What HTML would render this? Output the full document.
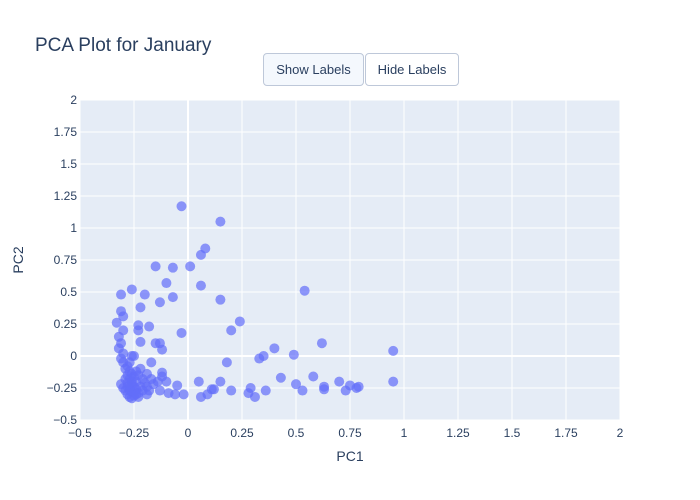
<!DOCTYPE html>
<html><head><meta charset="utf-8"><style>
body{margin:0;background:#fff;font-family:"Liberation Sans",Arial,sans-serif}
#wrap{position:relative;width:700px;height:500px}
.btn{position:absolute;top:53px;height:33px;border:1px solid #bec8d9;border-radius:4px;font-size:13px;color:#2a3f5f;display:flex;align-items:center;justify-content:center;box-sizing:border-box;background:#fff}
</style></head><body>
<div id="wrap">
<svg id="svg" width="700" height="500" style="position:absolute;left:0;top:0"></svg>
<div class="btn" style="left:263px;width:101px;background:#f4f8fd">Show Labels</div>
<div class="btn" style="left:365px;width:94px">Hide Labels</div>
</div>
<script>
const xTicks=[-0.5,-0.25,0,0.25,0.5,0.75,1,1.25,1.5,1.75,2];
const yTicks=[-0.5,-0.25,0,0.25,0.5,0.75,1,1.25,1.5,1.75,2];
const pc1=[-0.03,0.15,0.08,0.06,-0.15,-0.07,0.01,-0.10,0.06,-0.31,-0.26,-0.20,-0.13,-0.07,0.15,0.54,-0.22,-0.31,-0.30,-0.33,-0.23,-0.18,-0.23,-0.30,-0.03,0.20,0.24,0.62,-0.32,-0.22,-0.15,-0.13,-0.31,-0.12,-0.32,-0.30,-0.26,-0.25,-0.31,0.33,0.35,0.40,0.49,0.95,-0.17,0.18,-0.12,-0.12,-0.17,-0.14,-0.10,-0.16,0.05,0.15,0.43,0.50,0.58,-0.05,-0.13,-0.09,-0.06,-0.02,0.06,0.09,0.11,0.12,0.20,0.28,0.29,0.31,0.36,0.53,0.63,0.63,0.70,0.73,0.75,0.78,0.79,0.95,-0.19,-0.18,
-0.28,-0.29,-0.27,-0.26,-0.28,-0.25,-0.27,-0.24,-0.23,-0.21,-0.20,-0.22,-0.24,-0.26,-0.28,-0.27,-0.26,-0.25,-0.23,-0.29,-0.30,-0.28,-0.26,-0.25,-0.27,-0.24,-0.22,-0.19,-0.21,-0.19,-0.29,-0.31,-0.30,-0.27,-0.25,-0.23,-0.27,-0.26,-0.28,-0.24];
const pc2=[1.17,1.05,0.84,0.79,0.70,0.69,0.70,0.57,0.55,0.48,0.52,0.48,0.42,0.46,0.44,0.51,0.38,0.35,0.31,0.26,0.24,0.23,0.20,0.20,0.18,0.20,0.27,0.10,0.15,0.11,0.10,0.10,0.10,0.05,0.06,0.02,0.00,0.00,-0.02,-0.02,0.00,0.06,0.01,0.04,-0.05,-0.05,-0.13,-0.16,-0.18,-0.20,-0.20,-0.22,-0.20,-0.20,-0.17,-0.22,-0.16,-0.23,-0.27,-0.29,-0.30,-0.30,-0.32,-0.30,-0.26,-0.26,-0.27,-0.29,-0.25,-0.32,-0.27,-0.27,-0.24,-0.26,-0.20,-0.27,-0.23,-0.25,-0.24,-0.20,-0.30,-0.27,
-0.08,-0.10,-0.12,-0.14,-0.15,-0.16,-0.18,-0.12,-0.15,-0.18,-0.21,-0.24,-0.26,-0.28,-0.30,-0.32,-0.33,-0.31,-0.29,-0.27,-0.25,-0.21,-0.22,-0.24,-0.25,-0.20,-0.10,-0.14,-0.27,-0.24,-0.18,-0.22,-0.05,-0.05,-0.28,-0.32,-0.27,-0.20,-0.24,-0.30];
const L=80,R=620,T=100,B=420;
const sx=v=>L+(v+0.5)/2.5*(R-L), sy=v=>B-(v+0.5)/2.5*(B-T);
const svg=document.getElementById('svg');const NS='http://www.w3.org/2000/svg';
function mk(t,a,txt){const e=document.createElementNS(NS,t);for(const k in a)e.setAttribute(k,a[k]);if(txt!==undefined)e.textContent=txt;svg.appendChild(e);return e;}
let e=mk('rect',{x:L,y:T,width:R-L,height:B-T,fill:'#E5ECF6'});


xTicks.forEach(v=>{const g=mk('line',{x1:sx(v),x2:sx(v),y1:T,y2:B,stroke:'#fff','stroke-width':v===0?2:1});


const t=mk('text',{x:sx(v),y:B+17,'text-anchor':'middle','font-size':12,fill:'#2a3f5f'},String(v).replace('-','\u2212'));

});
yTicks.forEach(v=>{const g=mk('line',{x1:L,x2:R,y1:sy(v),y2:sy(v),stroke:'#fff','stroke-width':v===0?2:1});


const t=mk('text',{x:L-3,y:sy(v)+4,'text-anchor':'end','font-size':12,fill:'#2a3f5f'},String(v).replace('-','\u2212'));

});
pc1.forEach((v,i)=>{const c=mk('circle',{cx:sx(v),cy:sy(pc2[i]),r:5,fill:'#636efa','fill-opacity':0.7});

});
e=mk('text',{x:35,y:51,'font-size':19,fill:'#2a3f5f'},'PCA Plot for January');


e=mk('text',{x:350,y:461,'text-anchor':'middle','font-size':14,fill:'#2a3f5f'},'PC1');


e=mk('text',{x:23,y:260,'text-anchor':'middle','font-size':14,fill:'#2a3f5f',transform:'rotate(-90 23 260)'},'PC2');


</script>
</body></html>
